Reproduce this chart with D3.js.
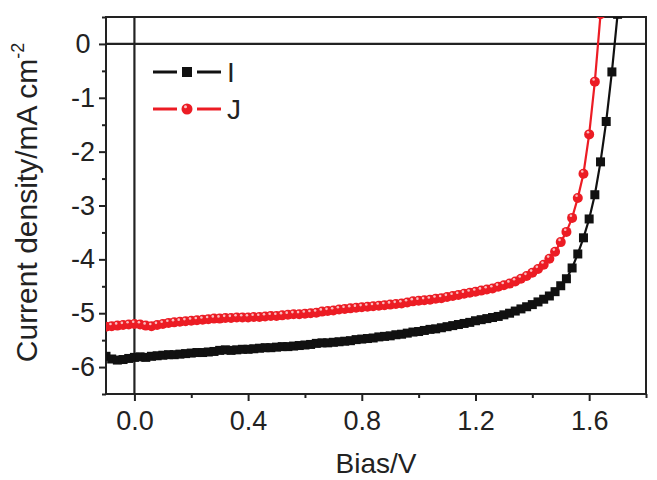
<!doctype html>
<html>
<head>
<meta charset="utf-8">
<title>J-V curves</title>
<script src="https://d3js.org/d3.v7.min.js"></script>
<style>
  body { margin: 0; background: #fff; }
  text { font-family: "Liberation Sans", Arial, sans-serif; fill: #222; }
</style>
</head>
<body>
<script>

// bias sweep, V
var bias = [-0.10, -0.08, -0.06, -0.04, -0.02, 0.00, 0.02, 0.04, 0.06, 0.08,
            0.10, 0.12, 0.14, 0.16, 0.18, 0.20, 0.22, 0.24, 0.26, 0.28,
            0.30, 0.32, 0.34, 0.36, 0.38, 0.40, 0.42, 0.44, 0.46, 0.48,
            0.50, 0.52, 0.54, 0.56, 0.58, 0.60, 0.62, 0.64, 0.66, 0.68,
            0.70, 0.72, 0.74, 0.76, 0.78, 0.80, 0.82, 0.84, 0.86, 0.88,
            0.90, 0.92, 0.94, 0.96, 0.98, 1.00, 1.02, 1.04, 1.06, 1.08,
            1.10, 1.12, 1.14, 1.16, 1.18, 1.20, 1.22, 1.24, 1.26, 1.28,
            1.30, 1.32, 1.34, 1.36, 1.38, 1.40, 1.42, 1.44, 1.46, 1.48,
            1.50, 1.52, 1.54, 1.56, 1.58, 1.60, 1.62, 1.64, 1.66, 1.68,
            1.70];

// current density of series I, mA cm-2
var currentI = [-5.80, -5.85, -5.87, -5.86, -5.84, -5.82, -5.81, -5.82, -5.80, -5.79,
                -5.78, -5.77, -5.77, -5.76, -5.75, -5.74, -5.73, -5.73, -5.72, -5.71,
                -5.69, -5.68, -5.69, -5.68, -5.67, -5.67, -5.66, -5.65, -5.64, -5.64,
                -5.63, -5.62, -5.62, -5.61, -5.60, -5.59, -5.58, -5.56, -5.55, -5.55,
                -5.54, -5.53, -5.52, -5.51, -5.49, -5.48, -5.47, -5.46, -5.44, -5.43,
                -5.42, -5.40, -5.39, -5.37, -5.35, -5.34, -5.32, -5.30, -5.29, -5.27,
                -5.25, -5.23, -5.21, -5.19, -5.17, -5.14, -5.12, -5.10, -5.08, -5.06,
                -5.03, -5.00, -4.96, -4.92, -4.88, -4.84, -4.79, -4.74, -4.68, -4.60,
                -4.49, -4.36, -4.16, -3.90, -3.60, -3.25, -2.80, -2.19, -1.44, -0.52,
                0.55];

// current density of series J (stops at 1.64 V)
var currentJ = [-5.25, -5.24, -5.23, -5.22, -5.21, -5.20, -5.21, -5.23, -5.24, -5.22,
                -5.20, -5.18, -5.17, -5.16, -5.15, -5.14, -5.13, -5.12, -5.11, -5.10,
                -5.10, -5.09, -5.09, -5.08, -5.08, -5.08, -5.07, -5.07, -5.06, -5.05,
                -5.05, -5.04, -5.03, -5.02, -5.02, -5.01, -5.00, -4.99, -4.97, -4.96,
                -4.95, -4.93, -4.92, -4.91, -4.90, -4.89, -4.88, -4.87, -4.86, -4.85,
                -4.84, -4.83, -4.82, -4.80, -4.78, -4.77, -4.76, -4.75, -4.73, -4.72,
                -4.70, -4.68, -4.66, -4.64, -4.62, -4.60, -4.58, -4.56, -4.54, -4.51,
                -4.48, -4.45, -4.41, -4.36, -4.31, -4.25, -4.18, -4.10, -3.99, -3.86,
                -3.68, -3.49, -3.23, -2.86, -2.41, -1.68, -0.70, 0.55];

var xMajor = [0.0, 0.4, 0.8, 1.2, 1.6];
var xMinor = [0.2, 0.6, 1.0, 1.4, 1.8];
var yMajor = [0, -1, -2, -3, -4, -5, -6];
var yMinor = [0.5, -0.5, -1.5, -2.5, -3.5, -4.5, -5.5, -6.5];
var seriesNames = ['I', 'J'];

// canvas
var width = 657, height = 480;
var margin = {left: 106, top: 17, right: 11, bottom: 86};
var plotW = width - margin.left - margin.right;
var plotH = height - margin.top - margin.bottom;
var red = '#ec1c24';

var svg = d3.select('body').append('svg')
    .attr('width', width)
    .attr('height', height);

var g = svg.append('g')
    .attr('transform', 'translate(' + margin.left + ',' + margin.top + ')');

var x = d3.scaleLinear().domain([-0.1, 1.8]).range([0, plotW]);
var y = d3.scaleLinear().domain([-6.5, 0.5]).range([plotH, 0]);

// ticks: majors and minors drawn as two axes
function styleAxis(sel) {
  sel.select('.domain').remove();
  sel.selectAll('line').attr('stroke', '#222').attr('stroke-width', 2);
}

g.append('g').attr('transform', 'translate(0,' + plotH + ')')
  .call(d3.axisBottom(x).tickValues(xMinor).tickSize(4).tickFormat(''))
  .call(styleAxis);
var xAx = g.append('g').attr('transform', 'translate(0,' + plotH + ')')
  .call(d3.axisBottom(x).tickValues(xMajor).tickSize(7).tickPadding(10)
        .tickFormat(function(d) { return d.toFixed(1); }))
  .call(styleAxis);
xAx.selectAll('text').attr('font-size', 27).attr('fill', '#222')
  .attr('font-family', '"Liberation Sans", Arial, sans-serif');

g.append('g')
  .call(d3.axisLeft(y).tickValues(yMinor).tickSize(4).tickFormat(''))
  .call(styleAxis);
var yAx = g.append('g')
  .call(d3.axisLeft(y).tickValues(yMajor).tickSize(7)
        .tickFormat(function(d) { return String(d); }))
  .call(styleAxis);
yAx.selectAll('text').attr('font-size', 27).attr('fill', '#222')
  .attr('font-family', '"Liberation Sans", Arial, sans-serif')
  .attr('text-anchor', 'middle').attr('x', -23);

// frame
g.append('rect')
  .attr('width', plotW).attr('height', plotH)
  .attr('fill', 'none').attr('stroke', '#222').attr('stroke-width', 2);

// zero lines
g.append('line')
  .attr('x1', x(0)).attr('x2', x(0)).attr('y1', 0).attr('y2', plotH)
  .attr('stroke', '#222').attr('stroke-width', 2.2);
g.append('line')
  .attr('x1', 0).attr('x2', plotW).attr('y1', y(0)).attr('y2', y(0))
  .attr('stroke', '#222').attr('stroke-width', 2.2);

// clip for the curves
svg.append('defs').append('clipPath').attr('id', 'clip')
  .append('rect').attr('width', plotW).attr('height', plotH);
var plot = g.append('g').attr('clip-path', 'url(#clip)');

var dataI = bias.map(function(v, i) { return {v: v, c: currentI[i]}; });
var dataJ = currentJ.map(function(c, i) { return {v: bias[i], c: c}; });

var line = d3.line().x(function(d) { return x(d.v); }).y(function(d) { return y(d.c); });

plot.append('path').datum(dataI)
  .attr('d', line).attr('fill', 'none').attr('stroke', '#111').attr('stroke-width', 2.2);
plot.selectAll('rect.sq').data(dataI).enter().append('rect')
  .attr('class', 'sq')
  .attr('x', function(d) { return x(d.v) - 4.5; })
  .attr('y', function(d) { return y(d.c) - 4.5; })
  .attr('width', 9).attr('height', 9)
  .attr('fill', '#111');

plot.append('path').datum(dataJ)
  .attr('d', line).attr('fill', 'none').attr('stroke', red).attr('stroke-width', 2.2);
var balls = plot.selectAll('g.ball').data(dataJ).enter().append('g')
  .attr('class', 'ball')
  .attr('transform', function(d) { return 'translate(' + x(d.v) + ',' + y(d.c) + ')'; });
balls.append('circle').attr('r', 5).attr('fill', red);
balls.append('circle').attr('r', 1.3).attr('cx', -1.2).attr('cy', -2.2)
  .attr('fill', '#fff').attr('opacity', 0.7);

// legend
var legend = g.append('g');
seriesNames.forEach(function(name, i) {
  var ly = 55 + i * 37;
  var col = i === 0 ? '#111' : red;
  var lg = legend.append('g').attr('transform', 'translate(0,' + ly + ')');
  lg.append('line').attr('x1', 47).attr('x2', 71).attr('stroke', col).attr('stroke-width', 3);
  lg.append('line').attr('x1', 91).attr('x2', 115).attr('stroke', col).attr('stroke-width', 3);
  if (i === 0) {
    lg.append('rect').attr('x', 76).attr('y', -5).attr('width', 10).attr('height', 10).attr('fill', col);
  } else {
    lg.append('circle').attr('cx', 81).attr('r', 5.5).attr('fill', col);
    lg.append('circle').attr('cx', 79.5).attr('cy', -2.2).attr('r', 1.5).attr('fill', '#fff').attr('opacity', 0.75);
  }
  lg.append('text').attr('x', 121).attr('y', 10).attr('font-size', 28).text(name);
});

// axis titles
svg.append('text')
  .attr('x', margin.left + plotW / 2).attr('y', 473)
  .attr('text-anchor', 'middle').attr('font-size', 28)
  .text('Bias/V');

var yt = svg.append('text')
  .attr('transform', 'translate(37,' + (margin.top + plotH / 2 - 3) + ') rotate(-90)')
  .attr('text-anchor', 'middle').attr('font-size', 30);
yt.append('tspan').text('Current density/mA cm');
yt.append('tspan').attr('font-size', 18).attr('dy', -13).text('-2');

</script>
</body>
</html>
